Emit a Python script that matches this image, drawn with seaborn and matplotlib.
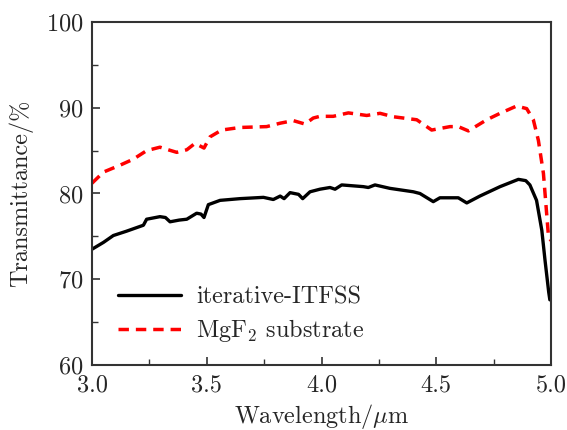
import pandas as pd
import seaborn as sns
import matplotlib
import matplotlib.pyplot as plt

sns.set_style("ticks")
matplotlib.rcParams['font.family'] = ['cmr10', 'DejaVu Serif']
matplotlib.rcParams['mathtext.fontset'] = 'cm'
matplotlib.rcParams['axes.unicode_minus'] = False
matplotlib.rcParams['axes.formatter.use_mathtext'] = True

# iterative-ITFSS transmittance (%)
wl_itfss = [3.0, 3.05, 3.093, 3.15, 3.224, 3.238, 3.296, 3.32, 3.34, 3.38, 3.413, 3.456, 3.475, 3.488,
            3.507, 3.558, 3.645, 3.747, 3.79, 3.82, 3.837, 3.863, 3.90, 3.918, 3.95, 3.993,
            4.037, 4.059, 4.088, 4.182, 4.204, 4.233, 4.298, 4.40, 4.429, 4.487, 4.516, 4.596,
            4.633, 4.69, 4.778, 4.858, 4.89, 4.908, 4.937, 4.96, 4.974, 4.99, 4.995, 5.0]
t_itfss = [73.5, 74.3, 75.1, 75.6, 76.3, 77.0, 77.3, 77.2, 76.7, 76.9, 77.0, 77.7, 77.6, 77.2,
           78.7, 79.2, 79.4, 79.55, 79.3, 79.7, 79.4, 80.1, 79.9, 79.4, 80.2, 80.5,
           80.7, 80.5, 81.0, 80.8, 80.7, 81.0, 80.6, 80.2, 80.0, 79.05, 79.5, 79.5,
           78.9, 79.7, 80.8, 81.65, 81.5, 81.0, 79.2, 75.7, 72.2, 68.5, 67.6, 67.8]

# MgF2 substrate transmittance (%)
wl_mgf2 = [3.0, 3.05, 3.122, 3.18, 3.238, 3.296, 3.332, 3.369, 3.413, 3.449, 3.488, 3.514, 3.565,
           3.645, 3.761, 3.82, 3.877, 3.928, 3.964, 3.993, 4.051, 4.117, 4.197, 4.255, 4.313,
           4.415, 4.48, 4.56, 4.596, 4.64, 4.72, 4.778, 4.85, 4.894, 4.923, 4.945, 4.967,
           4.989, 5.0]
t_mgf2 = [81.2, 82.5, 83.3, 84.0, 85.0, 85.4, 85.1, 84.8, 85.1, 85.85, 85.3, 86.6, 87.4,
          87.7, 87.8, 88.2, 88.5, 88.1, 88.8, 89.0, 89.0, 89.4, 89.1, 89.35, 88.95,
          88.6, 87.4, 87.8, 87.8, 87.3, 88.6, 89.35, 90.2, 89.9, 88.6, 86.2, 82.35,
          75.0, 74.5]

font_size = 17.5

fig = plt.figure(figsize=(5.67, 4.30), dpi=100)
ax = fig.add_axes([92 / 567, 1 - 365 / 430, 459 / 567, 343 / 430])

sns.lineplot(ax=ax, x=wl_itfss, y=t_itfss, color='black', linewidth=2.4,
             label='iterative-ITFSS')
sns.lineplot(ax=ax, x=wl_mgf2, y=t_mgf2, color='red', linewidth=2.5,
             linestyle=(0, (3.0, 2.0)), label=r'MgF$_2$ substrate')

ax.set_xlim(3.0, 5.0)
ax.set_ylim(60, 100)
ax.set_xticks([3.0, 3.5, 4.0, 4.5, 5.0])
ax.set_xticks([3.25, 3.75, 4.25, 4.75], minor=True)
ax.set_yticks([60, 70, 80, 90, 100])
ax.set_yticks([65, 75, 85, 95], minor=True)
ax.set_xticklabels(['3.0', '3.5', '4.0', '4.5', '5.0'])
ax.tick_params(which='both', direction='in', top=False, right=False,
               labelsize=font_size, color='#333333')
ax.tick_params(which='major', length=6, width=1.2)
ax.tick_params(which='minor', length=4, width=1.0)
ax.tick_params(axis='x', which='major', pad=7)
ax.tick_params(axis='y', which='major', pad=6)
for sp in ax.spines.values():
    sp.set_color('#333333')
    sp.set_linewidth(1.5)
    sp.set_visible(True)

ax.set_xlabel(r'Wavelength/$\mu$m', fontsize=font_size, labelpad=4)
ax.set_ylabel('Transmittance/%', fontsize=font_size, labelpad=9)

ax.legend(loc='lower left', bbox_to_anchor=(0.057, 0.06), frameon=False,
          fontsize=font_size, handlelength=2.6, handletextpad=0.6, labelspacing=0.35,
          borderpad=0, borderaxespad=0)

plt.savefig('out.png', dpi=100)
